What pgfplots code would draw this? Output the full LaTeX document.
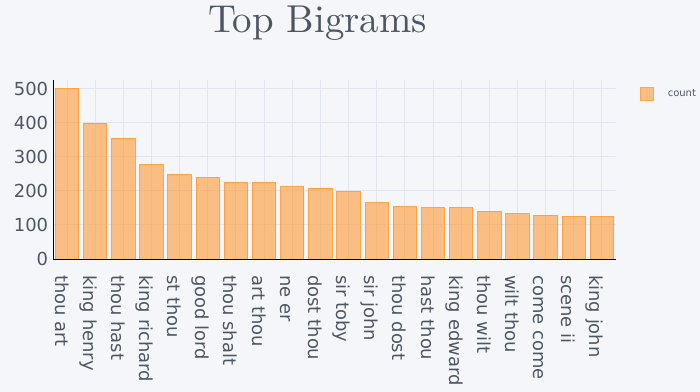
\documentclass[border=0pt]{standalone}
\usepackage{fontspec}
\usepackage{pgfplots}
\pgfplotsset{compat=1.18}
\newfontfamily\tickfont{DejaVu Sans}
\newfontfamily\titlefont{lmroman10-regular}[Extension=.otf]
\definecolor{bg}{HTML}{F5F6F9}
\definecolor{gridc}{HTML}{E1E5ED}
\definecolor{txt}{HTML}{4D5663}
\definecolor{barc}{RGB}{255,153,51}
\begin{document}
\begin{tikzpicture}
\fill[bg] (0,0) rectangle (700bp,392bp);
\begin{axis}[
  at={(53bp,133bp)}, anchor=south west,
  scale only axis, width=563bp, height=179bp,
  xmin=-0.5, xmax=19.5, ymin=0, ymax=526,
  axis x line*=bottom, axis y line*=left,
  axis line style={black, line width=1bp},
  xtick={0,...,19},
  xticklabels={thou art, king henry, thou hast, king richard, st thou, good lord, thou shalt, art thou, ne er, dost thou, sir toby, sir john, thou dost, hast thou, king edward, thou wilt, wilt thou, come come, scene ii, king john},
  ytick={0,100,...,500},
  /pgf/number format/assume math mode=true,
  grid=major, grid style={gridc, line width=1bp},
  major tick length=0pt,
  tick label style={font=\tickfont\fontsize{18}{20}\selectfont, text=txt},
  yticklabel style={anchor=east, inner sep=0pt, xshift=-4.7bp},
  xticklabel style={rotate=-90, anchor=base west, inner sep=0pt, xshift=16bp, yshift=-12bp},
  ybar, bar width=0.83,
  legend style={at={(rel axis cs:1,1)}, anchor=north west, xshift=24bp, yshift=-7bp,
    draw=none, fill=none, inner sep=0pt,
    font=\tickfont\fontsize{10}{12}\selectfont, text=txt,
    /tikz/every even column/.style={column sep=0pt}},
  legend image code/.code={\draw[#1, line width=1bp] (0bp,-6.2bp) rectangle (12.6bp,6.2bp);},
  legend cell align=left,
]
\addplot[fill=barc, fill opacity=0.6, draw=barc, draw opacity=0.85, line width=1bp] coordinates {
 (0,501) (1,399) (2,355) (3,277) (4,249) (5,240) (6,226) (7,225) (8,212) (9,208)
 (10,199) (11,165) (12,153) (13,151) (14,151) (15,141) (16,134) (17,129) (18,125) (19,124)
};
\legend{\hspace{12bp}count}
\end{axis}
\node[anchor=base, text=txt, font=\titlefont\fontsize{39}{46}\selectfont] at (317.5bp,359bp) {Top Bigrams};
\pgfresetboundingbox
\useasboundingbox (0,0) rectangle (700bp,392bp);
\end{tikzpicture}
\end{document}
